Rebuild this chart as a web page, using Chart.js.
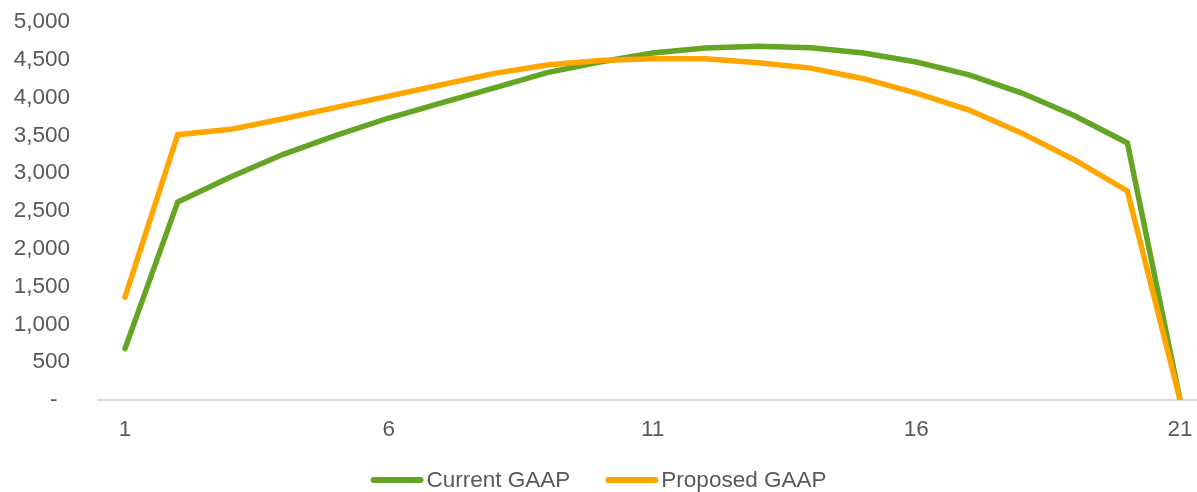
<!DOCTYPE html>
<html>
<head>
<meta charset="utf-8">
<script src="https://cdn.jsdelivr.net/npm/chart.js@4/dist/chart.umd.min.js"></script>
<style>
  html, body { margin: 0; padding: 0; background: #ffffff; }
  #wrap { width: 1197px; height: 492px; position: relative; }
</style>
</head>
<body>
<div id="wrap"><canvas id="c"></canvas></div>
<script>
// Periods 1..21 and the two earnings profiles
const periods = [1,2,3,4,5,6,7,8,9,10,11,12,13,14,15,16,17,18,19,20,21];
const currentGaap  = [680, 2620, 2950, 3250, 3500, 3730, 3930, 4130, 4330, 4470, 4590, 4655, 4680, 4660, 4590, 4470, 4300, 4060, 3760, 3400, 0];
const proposedGaap = [1360, 3510, 3580, 3720, 3870, 4020, 4170, 4320, 4430, 4490, 4515, 4515, 4460, 4390, 4250, 4060, 3835, 3530, 3175, 2765, 0];
const xTickValues = [1, 6, 11, 16, 21];
const yTickValues = [0, 500, 1000, 1500, 2000, 2500, 3000, 3500, 4000, 4500, 5000];
const seriesNames = ['Current GAAP', 'Proposed GAAP'];

const GREEN = '#65a524';
const ORANGE = '#ffa500';
const TEXT = '#595959';
const FONT = '"Liberation Sans", Arial, sans-serif';
const FONT_SIZE = 22.5;

const toPoints = vals => periods.map((p, i) => ({ x: p, y: vals[i] }));

// Legend drawn below the plot: short thick line followed by the series name
const bottomLegend = {
  id: 'bottomLegend',
  afterDraw(chart) {
    const ctx = chart.ctx;
    ctx.save();
    ctx.font = FONT_SIZE + 'px ' + FONT;
    ctx.textBaseline = 'middle';
    ctx.textAlign = 'left';
    const lineW = 53, gap = 3, itemGap = 35, y = 480;
    const items = chart.data.datasets.map(ds => ({
      label: ds.label, color: ds.borderColor, w: lineW + gap + ctx.measureText(ds.label).width
    }));
    const total = items.reduce((s, it) => s + it.w, 0) + itemGap * (items.length - 1);
    let x = chart.width / 2 - total / 2;
    items.forEach(it => {
      ctx.strokeStyle = it.color;
      ctx.lineWidth = 6;
      ctx.lineCap = 'round';
      ctx.beginPath();
      ctx.moveTo(x + 3, y);
      ctx.lineTo(x + lineW - 3, y);
      ctx.stroke();
      ctx.fillStyle = TEXT;
      ctx.fillText(it.label, x + lineW + gap, y + 1);
      x += it.w + itemGap;
    });
    ctx.restore();
  }
};

new Chart(document.getElementById('c'), {
  type: 'line',
  data: {
    datasets: [
      { label: seriesNames[0], data: toPoints(currentGaap), borderColor: GREEN, backgroundColor: GREEN, order: 1 },
      { label: seriesNames[1], data: toPoints(proposedGaap), borderColor: ORANGE, backgroundColor: ORANGE, order: 0 }
    ]
  },
  options: {
    responsive: true,
    maintainAspectRatio: false,
    animation: false,
    layout: { padding: { top: 22, left: 0, right: 0, bottom: 0 } },
    elements: {
      line: { borderWidth: 5.5, tension: 0, borderCapStyle: 'round' },
      point: { radius: 0, hoverRadius: 0 }
    },
    plugins: {
      legend: { display: false },
      tooltip: { enabled: false }
    },
    scales: {
      x: {
        type: 'linear',
        min: 0.488,
        max: 21.32,
        afterBuildTicks: s => { s.ticks = xTickValues.map(v => ({ value: v })); },
        afterFit: s => { s.height = 92; s.paddingLeft = 0; s.paddingRight = 0; },
        grid: { display: false, drawTicks: false },
        border: { display: true, color: '#d9d9d9', width: 2 },
        ticks: {
          color: TEXT,
          font: { family: FONT, size: FONT_SIZE },
          padding: 16,
          maxRotation: 0,
          autoSkip: false,
          callback: v => String(v)
        }
      },
      y: {
        min: 0,
        max: 5000,
        afterBuildTicks: s => { s.ticks = yTickValues.map(v => ({ value: v })); },
        afterFit: s => { s.width = 98; s.paddingTop = 0; s.paddingBottom = 0; },
        grid: { display: false, drawTicks: false },
        border: { display: false },
        ticks: {
          color: TEXT,
          font: { family: FONT, size: FONT_SIZE },
          padding: 28,
          callback: v => v === 0 ? '-  ' : v.toLocaleString('en-US')
        }
      }
    }
  },
  plugins: [bottomLegend]
});
</script>
</body>
</html>
